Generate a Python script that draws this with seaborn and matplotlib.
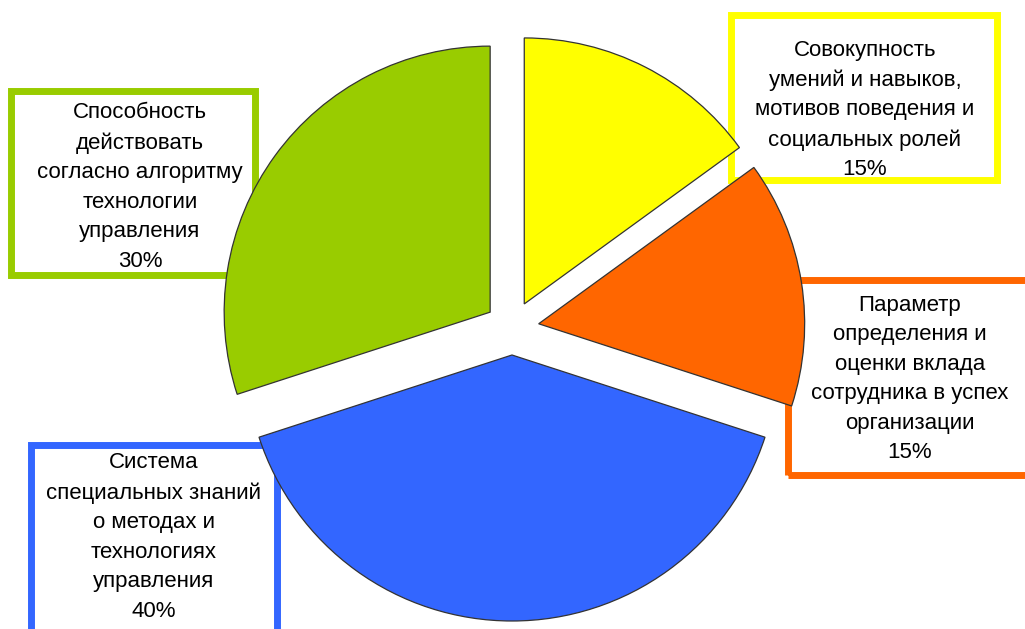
import matplotlib
matplotlib.use("Agg")
import matplotlib.pyplot as plt
from matplotlib.patches import Rectangle
import seaborn as sns

# Shares of the components of managerial competence (clockwise from the top)
labels = [
    "Совокупность\nумений и навыков,\nмотивов поведения и\nсоциальных ролей",
    "Параметр\nопределения и\nоценки вклада\nсотрудника в успех\nорганизации",
    "Система\nспециальных знаний\nо методах и\nтехнологиях\nуправления",
    "Способность\nдействовать\nсогласно алгоритму\nтехнологии\nуправления",
]
shares = [15, 15, 40, 30]
colors = ["#FFFF00", "#FF6600", "#3366FF", "#99CC00"]

sns.set_theme(style="white")
plt.rcParams["font.family"] = ["Liberation Sans", "DejaVu Sans"]

W, H = 1025, 629
fig = plt.figure(figsize=(W / 100, H / 100), dpi=100)
ax = fig.add_axes([0, 0, 1, 1])

radius = 266
ax.pie(
    shares,
    colors=sns.color_palette(colors),
    startangle=90,
    counterclock=False,
    center=(512, H - 328),
    radius=radius,
    explode=[27] * len(shares),
    wedgeprops=dict(edgecolor="#333333", linewidth=0.9, zorder=3),
)

# Callout boxes (x0, y0, x1, y1 in pixel space, y downwards) and text anchors
boxes = [
    (731, 15, 997, 180),
    (788, 280, 1045, 475),
    (31, 445, 277, 680),
    (11, 91, 255, 275),
]
anchors = [(865, 110), (910, 379), (154, 537), (140, 187)]

for lab, share, col, (x0, y0, x1, y1), (tx, ty) in zip(labels, shares, colors, boxes, anchors):
    ax.add_patch(Rectangle((x0, H - y1), x1 - x0, y1 - y0, fill=False,
                           edgecolor=col, linewidth=5, zorder=1))
    ax.text(tx, H - ty, f"{lab}\n{share}%", ha="center", va="center",
            fontsize=16, linespacing=1.53, color="black", zorder=5)

ax.set_xlim(0, W)
ax.set_ylim(0, H)
ax.set_aspect("auto")
ax.axis("off")
fig.savefig("out.png", dpi=100, facecolor="white")
